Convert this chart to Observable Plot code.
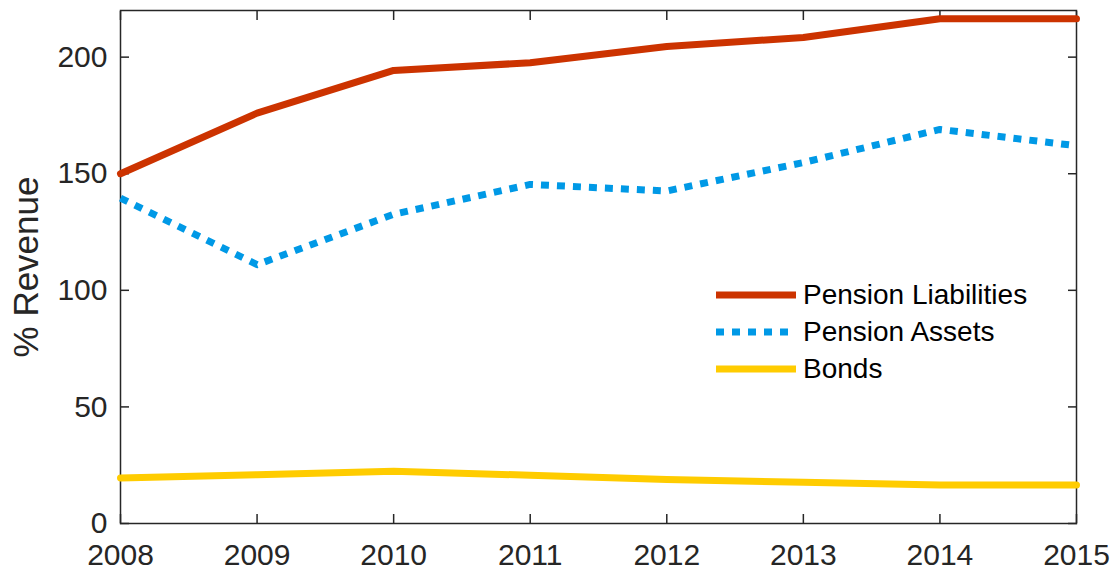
<!DOCTYPE html>
<html>
<head>
<meta charset="utf-8">
<script src="https://cdn.jsdelivr.net/npm/d3@7"></script>
<script src="https://cdn.jsdelivr.net/npm/@observablehq/plot@0.6"></script>
<style>
  html, body { margin: 0; padding: 0; background: #fff; }
  #wrap { position: relative; width: 1115px; height: 574px; font-family: "Liberation Sans", Arial, sans-serif; }
  #legend { position: absolute; left: 716px; top: 276px; font-size: 28px; color: #000; }
  #legend .row { display: flex; align-items: center; height: 37px; }
  #legend svg { margin-right: 7px; }
</style>
</head>
<body>
<div id="wrap"></div>
<script>
const years = [2008, 2009, 2010, 2011, 2012, 2013, 2014, 2015];
const pensionLiabilities = [150, 176, 194.3, 197.6, 204.6, 208.4, 216.5, 216.5];
const pensionAssets = [139.5, 111, 132.6, 145.4, 142.6, 154.8, 169, 162];
const bonds = [19.5, 20.9, 22.4, 20.7, 18.9, 17.7, 16.5, 16.5];
const yTicks = [0, 50, 100, 150, 200];
const seriesNames = ["Pension Liabilities", "Pension Assets", "Bonds"];
const seriesColors = ["#CC3300", "#0099E6", "#FFCC00"];
const yLabel = "% Revenue";

const table = (vals) => years.map((y, i) => ({year: y, value: vals[i]}));
const axisColor = "#262626";
const fontFamily = "'Liberation Sans', Arial, sans-serif";

const plot = Plot.plot({
  width: 1115,
  height: 574,
  marginLeft: 120,
  marginRight: 39,
  marginTop: 10,
  marginBottom: 51,
  style: {fontFamily, background: "#fff", overflow: "visible"},
  x: {domain: [2008, 2015]},
  y: {domain: [0, 220]},
  marks: [
    Plot.frame({stroke: axisColor, strokeWidth: 1.5}),
    Plot.axisY(yTicks, {anchor: "left", tickSize: -9, tickPadding: 22, fontSize: 30, color: axisColor, strokeWidth: 1.5, label: null}),
    Plot.axisY(yTicks, {anchor: "right", tickSize: -9, text: null, color: axisColor, strokeWidth: 1.5, label: null}),
    Plot.axisX(years, {anchor: "bottom", tickSize: -9, tickPadding: 29, fontSize: 30, color: axisColor, strokeWidth: 1.5, tickFormat: "d", label: null}),
    Plot.axisX(years, {anchor: "top", tickSize: -9, text: null, color: axisColor, strokeWidth: 1.5, label: null}),
    Plot.line(table(bonds), {x: "year", y: "value", stroke: seriesColors[2], strokeWidth: 7}),
    Plot.line(table(pensionAssets), {x: "year", y: "value", stroke: seriesColors[1], strokeWidth: 7, strokeDasharray: "8,8", strokeLinecap: "butt"}),
    Plot.line(table(pensionLiabilities), {x: "year", y: "value", stroke: seriesColors[0], strokeWidth: 7}),
    Plot.text([yLabel], {frameAnchor: "left", textAnchor: "middle", dx: -94, rotate: -90, fontSize: 35, fill: axisColor, text: d => d})
  ]
});

const wrap = document.getElementById("wrap");
wrap.appendChild(plot);

const legend = document.createElement("div");
legend.id = "legend";
seriesNames.forEach((name, i) => {
  const row = document.createElement("div");
  row.className = "row";
  const dash = i === 1 ? 'stroke-dasharray="8,8"' : "";
  row.innerHTML = `<svg width="80" height="10"><line x1="0" x2="80" y1="5" y2="5" stroke="${seriesColors[i]}" stroke-width="7" ${dash}/></svg><span>${name}</span>`;
  legend.appendChild(row);
});
wrap.appendChild(legend);
</script>
</body>
</html>
